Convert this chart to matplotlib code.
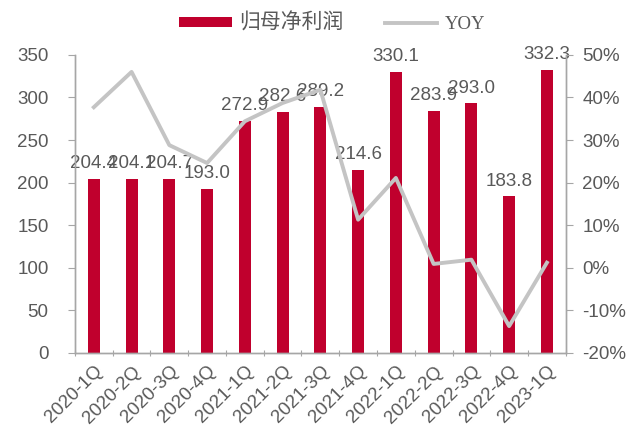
import matplotlib
matplotlib.use("Agg")
import matplotlib.pyplot as plt
from matplotlib.patches import Patch
from matplotlib.lines import Line2D

# 季度归母净利润（亿元）及同比增速
quarters = ['2020-1Q', '2020-2Q', '2020-3Q', '2020-4Q', '2021-1Q', '2021-2Q', '2021-3Q',
            '2021-4Q', '2022-1Q', '2022-2Q', '2022-3Q', '2022-4Q', '2023-1Q']
net_profit = [204.4, 204.1, 204.7, 193.0, 272.9, 282.6, 289.2,
              214.6, 330.1, 283.9, 293.0, 183.8, 332.3]
yoy = [37.7, 46.0, 28.8, 24.6, 34.4, 38.7, 41.8,
       11.3, 21.1, 0.9, 1.9, -13.7, 1.2]

bar_color = '#C0002D'
line_color = '#C4C4C4'
text_color = '#595959'
axis_color = '#A6A6A6'
fs = 13.5

plt.rcParams['font.family'] = ['Liberation Sans', 'Noto Sans CJK SC']

fig = plt.figure(figsize=(6.35, 4.32), dpi=100)
ax = fig.add_axes([0.118, 0.183, 0.773, 0.690])
ax2 = ax.twinx()

x = list(range(len(quarters)))
ax.bar(x, net_profit, width=0.32, color=bar_color, zorder=2)
for xi, v in zip(x, net_profit):
    ax.text(xi, v + 8, f'{v:.1f}', ha='center', va='bottom', fontsize=fs,
            color=text_color, clip_on=False, zorder=5)

ax2.plot(x, [v / 100 for v in yoy], color=line_color, linewidth=2.8, zorder=3)

ax.set_xlim(-0.5, len(quarters) - 0.5)
ax.set_ylim(0, 350)
ax.set_yticks(range(0, 351, 50))
ax2.set_ylim(-0.2, 0.5)
ax2.set_yticks([i / 10 for i in range(-2, 6)])
ax2.set_yticklabels([f'{i * 10}%' for i in range(-2, 6)])

# 刻度放在类别之间
ax.set_xticks([i - 0.5 for i in range(len(quarters) + 1)], minor=False)
ax.set_xticklabels([])
ax.set_xticks(x, minor=True)
ax.set_xticklabels(quarters, minor=True, rotation=45, ha='right',
                   rotation_mode='anchor', fontsize=fs, color=text_color)
ax.tick_params(axis='x', which='minor', length=0, pad=7)
ax.tick_params(axis='x', which='major', length=5, direction='inout', color=axis_color)

ax.tick_params(axis='y', labelsize=fs, labelcolor=text_color, color=axis_color,
               length=5, pad=14)
ax2.tick_params(axis='y', labelsize=fs, labelcolor=text_color, color=axis_color,
                length=5, pad=7)

for a in (ax, ax2):
    a.spines['top'].set_visible(False)
    for s in ('left', 'right', 'bottom'):
        a.spines[s].set_color(axis_color)
        a.spines[s].set_linewidth(1.0)
ax.set_zorder(ax2.get_zorder() - 1)
ax.patch.set_visible(True)
ax2.patch.set_visible(False)

handles = [Patch(facecolor=bar_color, edgecolor='none'),
           Line2D([0], [0], color=line_color, linewidth=2.8)]
leg = fig.legend(handles, ['归母净利润', 'YOY'], loc='upper center',
                 bbox_to_anchor=(0.523, 1.01), ncol=2, frameon=False,
                 handlelength=2.8, handleheight=0.5, columnspacing=2.2,
                 handletextpad=0.4, fontsize=fs)
leg.get_texts()[0].set_fontsize(15)
leg.get_texts()[1].set_fontfamily(['Liberation Serif'])
for t in leg.get_texts():
    t.set_color(text_color)

fig.savefig('out.png', dpi=100)
